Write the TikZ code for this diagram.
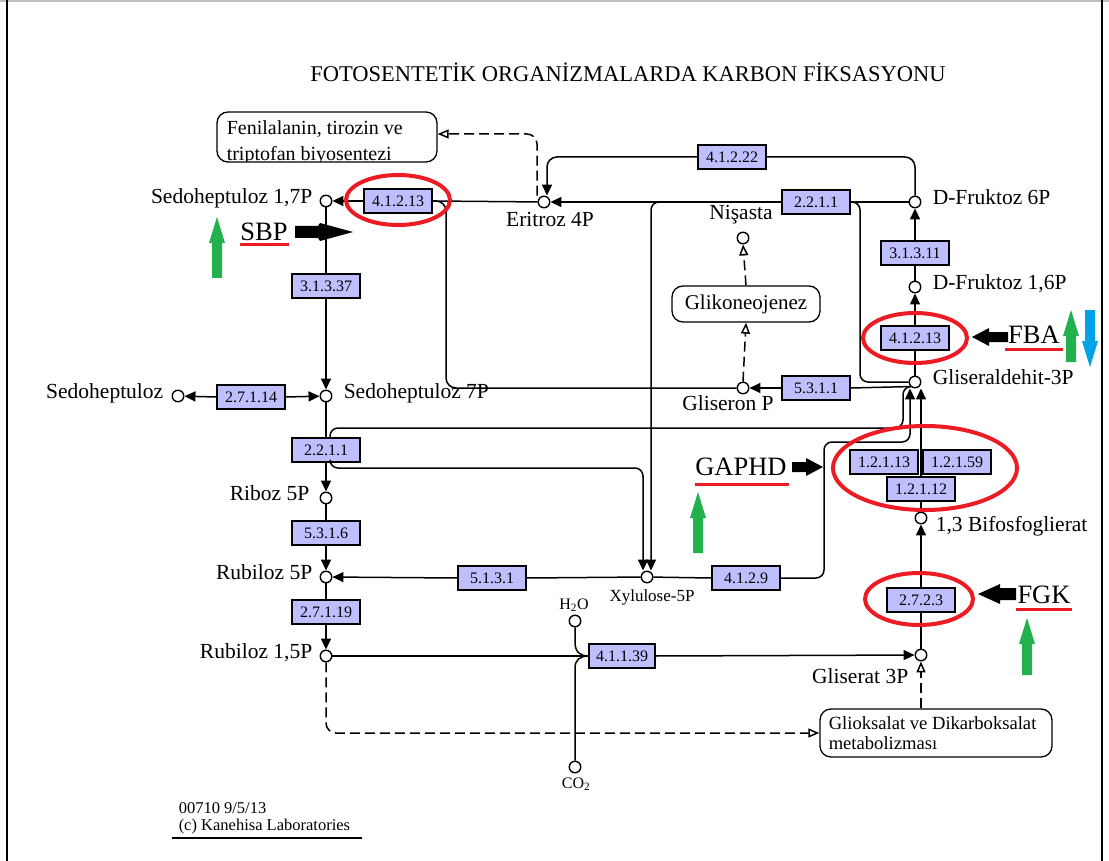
\documentclass[tikz,border=0pt]{standalone}
\usepackage{fontspec}
\setmainfont{Liberation Serif}
\usepackage{graphicx}
\usetikzlibrary{arrows.meta,calc}
\definecolor{enz}{HTML}{BFBFFF}
\definecolor{pred}{HTML}{ED1C24}
\definecolor{pgreen}{HTML}{22B14C}
\definecolor{pblue}{HTML}{00A2E8}
\begin{document}
\begin{tikzpicture}[x=1pt,y=-1pt,line width=1.5pt,
  cpd/.style={circle,draw,fill=white,line width=1.4pt,minimum size=11.5pt,inner sep=0pt},
  ec/.style={draw,line width=1.1pt,fill=enz,minimum width=68pt,minimum height=24pt,inner sep=1pt,font=\fontsize{16}{17}\selectfont},
  lbl/.style={inner sep=0pt,font=\fontsize{21.5}{24}\selectfont,text height=0.7em,text depth=0.2em},
  sml/.style={inner sep=0pt,font=\fontsize{17}{18}\selectfont},
  mapbox/.style={draw,rounded corners=11pt,line width=1.3pt,fill=white,inner sep=0pt},
  ann/.style={inner sep=0pt,font=\fontsize{26.5}{28}\selectfont},
  arr/.style={-{Triangle[length=11pt,width=10pt]}},
  oarr/.style={-{Triangle[open,length=11pt,width=9pt,fill=white]}},
  dsh/.style={dash pattern=on 10pt off 5pt},
  ring/.style={draw=pred,line width=4pt},
  uline/.style={draw=pred,line width=3pt},
  spear/.pic={\fill (-5,0) -- (-5,-#1+26) -- (-8,-#1+26) -- (0,-#1) -- (8,-#1+26) -- (5,-#1+26) -- (5,0) -- cycle;}
]
\useasboundingbox (0,0) rectangle (1109,861);
\fill[white] (0,0) rectangle (1109,861);
% frame
\draw[gray!50,line width=1.5pt] (0,0.8) -- (1109,0.8);
\draw[line width=2pt] (7,0) -- (7,861);
\draw[line width=2pt] (1102,0) -- (1102,861);

% title
\node[inner sep=0pt,font=\fontsize{22.5}{26}\selectfont] (title) at (628,72) {FOTOSENTETİK ORGANİZMALARDA KARBON FİKSASYONU};

% map boxes
\node[mapbox,minimum width=220pt,minimum height=50pt] (fen) at (327,137) {};
\begin{scope}
\clip[rounded corners=11pt] (217,112) rectangle (437,162);
\node[anchor=base west,inner sep=0pt,font=\fontsize{20}{22}\selectfont] (fent1) at (226,135) {Fenilalanin, tirozin ve};
\node[anchor=base west,inner sep=0pt,font=\fontsize{20}{22}\selectfont] (fent2) at (226,161) {triptofan biyosentezi};
\end{scope}
\node[mapbox,minimum width=148pt,minimum height=36pt,font=\fontsize{21}{24}\selectfont] (glk) at (746,304) {Glikoneojenez};
\node[mapbox,minimum width=232pt,minimum height=48pt] (glx) at (936,733) {};
\node[anchor=base west,inner sep=0pt,font=\fontsize{18.6}{20}\selectfont] (glxt1) at (828,729) {Glioksalat ve Dikarboksalat};
\node[anchor=base west,inner sep=0pt,font=\fontsize{18.6}{20}\selectfont] (glxt2) at (828,749) {metabolizması};

% compounds
\node[cpd] (s17) at (326,201) {};
\node[cpd] (e4p) at (544,202) {};
\node[cpd] (f6p) at (915,202) {};
\node[cpd] (f16p) at (915,287) {};
\node[cpd] (g3p) at (915,382) {};
\node[cpd] (nis) at (743,238) {};
\node[cpd] (glp) at (743,388) {};
\node[cpd] (sed) at (178,396) {};
\node[cpd] (s7p) at (326,396) {};
\node[cpd] (r5p) at (326,498) {};
\node[cpd] (ru5p) at (326,577) {};
\node[cpd] (x5p) at (647,577) {};
\node[cpd] (rubp) at (326,656) {};
\node[cpd] (bpg) at (921,518) {};
\node[cpd] (g3pa) at (921,655) {};
\node[cpd] (h2o) at (575,621) {};
\node[cpd] (co2) at (575,767) {};

% compound labels
\node[lbl,anchor=east] (s17t) at (313,201) {Sedoheptuloz 1,7P};
\node[lbl] (e4pt) at (550,224) {Eritroz 4P};
\node[lbl,anchor=west] (f6pt) at (932,202) {D-Fruktoz 6P};
\node[lbl,anchor=west] (f16pt) at (932,287) {D-Fruktoz 1,6P};
\node[lbl,anchor=west] (g3pt) at (932,382) {Gliseraldehit-3P};
\node[lbl] (nist) at (741,217) {Nişasta};
\node[lbl] (glpt) at (728,408) {Gliseron P};
\node[lbl,anchor=east] (sedt) at (164,396) {Sedoheptuloz};
\node[lbl,anchor=west] (s7pt) at (343,396) {Sedoheptuloz 7P};
\node[lbl,anchor=east] (r5pt) at (310,498) {Riboz 5P};
\node[lbl,anchor=east] (ru5pt) at (313,577) {Rubiloz 5P};
\node[sml] (x5pt) at (652,597) {Xylulose-5P};
\node[lbl,anchor=east] (rubpt) at (313,656) {Rubiloz 1,5P};
\node[lbl,anchor=west] (bpgt) at (935,529) {1,3 Bifosfoglierat};
\node[lbl,anchor=east] (g3pat) at (909,681) {Gliserat 3P};
\node[inner sep=0pt,font=\fontsize{16}{17}\selectfont] (h2ot) at (574,605) {H\textsubscript{2}O};
\node[inner sep=0pt,font=\fontsize{16}{17}\selectfont] (co2t) at (576,784) {CO\textsubscript{2}};

% enzymes
\node[ec] (e1) at (398,201) {4.1.2.13};
\node[ec] (e2) at (732,157) {4.1.2.22};
\node[ec] (e3) at (816,202) {2.2.1.1};
\node[ec] (e4) at (915,253) {3.1.3.11};
\node[ec] (e5) at (915,338) {4.1.2.13};
\node[ec] (e6) at (816,388) {5.3.1.1};
\node[ec] (e7) at (326,286) {3.1.3.37};
\node[ec] (e8) at (251,397) {2.7.1.14};
\node[ec] (e9) at (326,450) {2.2.1.1};
\node[ec] (e10) at (326,533) {5.3.1.6};
\node[ec] (e11) at (492,578) {5.1.3.1};
\node[ec] (e12) at (746,578) {4.1.2.9};
\node[ec] (e13) at (326,612) {2.7.1.19};
\node[ec,minimum width=66pt] (e14) at (622,656) {4.1.1.39};
\node[ec] (e15) at (884,462) {1.2.1.13};
\node[ec] (e16) at (957,462) {1.2.1.59};
\node[ec] (e17) at (921,489) {1.2.1.12};
\node[ec] (e18) at (921,600) {2.7.2.3};

% waypoints
\coordinate (k1) at (860,382);
\coordinate (k2) at (446,201);
\coordinate (k3) at (824,442);
\coordinate (k4) at (903,428);
\coordinate (k6) at (643,468);
\coordinate (k7) at (575,642);
\coordinate (k8) at (575,668);

% connectors
\draw[arr] (e3.west) -- (e4p);
\draw (e4p) -- (e1.east);
\draw[arr] (e1.west) -- (s17);
\draw[dsh,oarr,rounded corners=10pt] ([xshift=-7pt]e4p.north) |- ([yshift=3pt]fen.east);
\draw[rounded corners=10pt] (f6p.north) |- (e2.east);
\draw[arr,rounded corners=10pt] (e2.west) -| ([xshift=3pt]e4p.north);
\draw (e3.east) -- (f6p);
\draw[rounded corners=8pt] (e3.east) -| (k1) -- (g3p.west);
\draw[arr,rounded corners=8pt] (e3.west) -| ([xshift=4pt]x5p.north);
\draw[rounded corners=10pt] (glp.west) -| (k2) -- (e1.east);
\draw[arr] (e6.west) -- (glp);
\draw (e6.east) -- (g3p.south west);
\draw[dsh,oarr] (glp.north) -- (glk.south);
\draw[dsh,oarr] (glk.north) -- (nis.south);
\draw[arr] (e4.north) -- (f6p);
\draw (f16p) -- (e4.south);
\draw[arr] (e5.north) -- (f16p);
\draw (g3p) -- (e5.south);
\draw (bpg) -- (e17.south);
\draw[arr] (e17.north) -- (g3p.south -| e17.north);
\draw (g3pa) -- (e18.south);
\draw[arr] (e18.north) -- (bpg);
\draw (x5p) -- (e12.west);
\draw[arr,rounded corners=8pt] (e12.east) -| (k3) -| ([xshift=-5pt]g3p.south);
\draw (s7p) -- (e9.north);
\draw[arr] (e9.south) -- (r5p);
\draw[rounded corners=8pt] ([xshift=4pt]e9.north) |- (k4) |- (g3p.south west);
\draw[arr,rounded corners=8pt] ([xshift=4pt]e9.south) |- (k6) -- ([xshift=-4pt]x5p.north);
\draw[arr] (e8.east) -- (s7p);
\draw[arr] (e8.west) -- (sed);
\draw (s17) -- (e7.north);
\draw[arr] (e7.south) -- (s7p);
\draw (r5p) -- (e10.north);
\draw[arr] (e10.south) -- (ru5p);
\draw (x5p) -- (e11.east);
\draw[arr] (e11.west) -- (ru5p);
\draw (ru5p) -- (e13.north);
\draw[arr] (e13.south) -- (rubp);
\draw (rubp) -- (e14.west);
\draw[arr] (e14.east) -- (g3pa);
\draw (h2o) -- (k7) .. controls (575,652) and (580,656) .. (e14.west);
\draw (co2) -- (k8) .. controls (575,660) and (580,656) .. (e14.west);
\draw[dsh,oarr,rounded corners=10pt] (rubp.south) |- (glx.west);
\draw[dsh,oarr] (glx.north -| g3pa) -- (g3pa.south);

% red rings
\draw[ring] (398,200) ellipse [x radius=52, y radius=25];
\draw[ring] (915,338) ellipse [x radius=52, y radius=25];
\draw[ring] (925,468) ellipse [x radius=92, y radius=42];
\draw[ring] (919,599) ellipse [x radius=54, y radius=26];

% annotations
\node[ann] (sbp) at (264,232) {SBP};
\draw[uline] (240,245) -- (289,245);
\fill (295,226) -- (318,226) -- (320,223) -- (353,232) -- (320,241) -- (318,238) -- (295,238) -- cycle;
\pic[pgreen] at (217,278) {spear=61};

\node[ann] (fba) at (1034,335) {FBA};
\draw[uline] (1005,349) -- (1063,349);
\fill (1008,332) -- (989,332) -- (989,328) -- (972,337) -- (989,346) -- (989,342) -- (1008,342) -- cycle;
\pic[pgreen] at (1071,362) {spear=52};
\pic[pblue,rotate=180] at (1090,310) {spear=57};

\node[ann] (gaphd) at (741,467) {GAPHD};
\draw[uline] (695,484) -- (789,484);
\fill (792,462) -- (806,462) -- (806,458) -- (823,467) -- (806,476) -- (806,472) -- (792,472) -- cycle;
\pic[pgreen] at (698,553) {spear=61};

\node[ann] (fgk) at (1044,595) {FGK};
\draw[uline] (1016,609) -- (1072,609);
\fill (1016,588) -- (1000,588) -- (1000,584) -- (978,594) -- (1000,604) -- (1000,600) -- (1016,600) -- cycle;
\pic[pgreen] at (1027,675) {spear=57};

% footer
\node[anchor=base west,inner sep=0pt,font=\fontsize{16.5}{17}\selectfont] (ft1) at (178,813) {00710 9/5/13};
\node[anchor=base west,inner sep=0pt,font=\fontsize{16.5}{17}\selectfont] (ft2) at (178,830) {(c) Kanehisa Laboratories};
\draw[line width=1.2pt] (ft2.south west |- 0,838) ++(-6,0) -- (362,838);
\end{tikzpicture}
\end{document}
